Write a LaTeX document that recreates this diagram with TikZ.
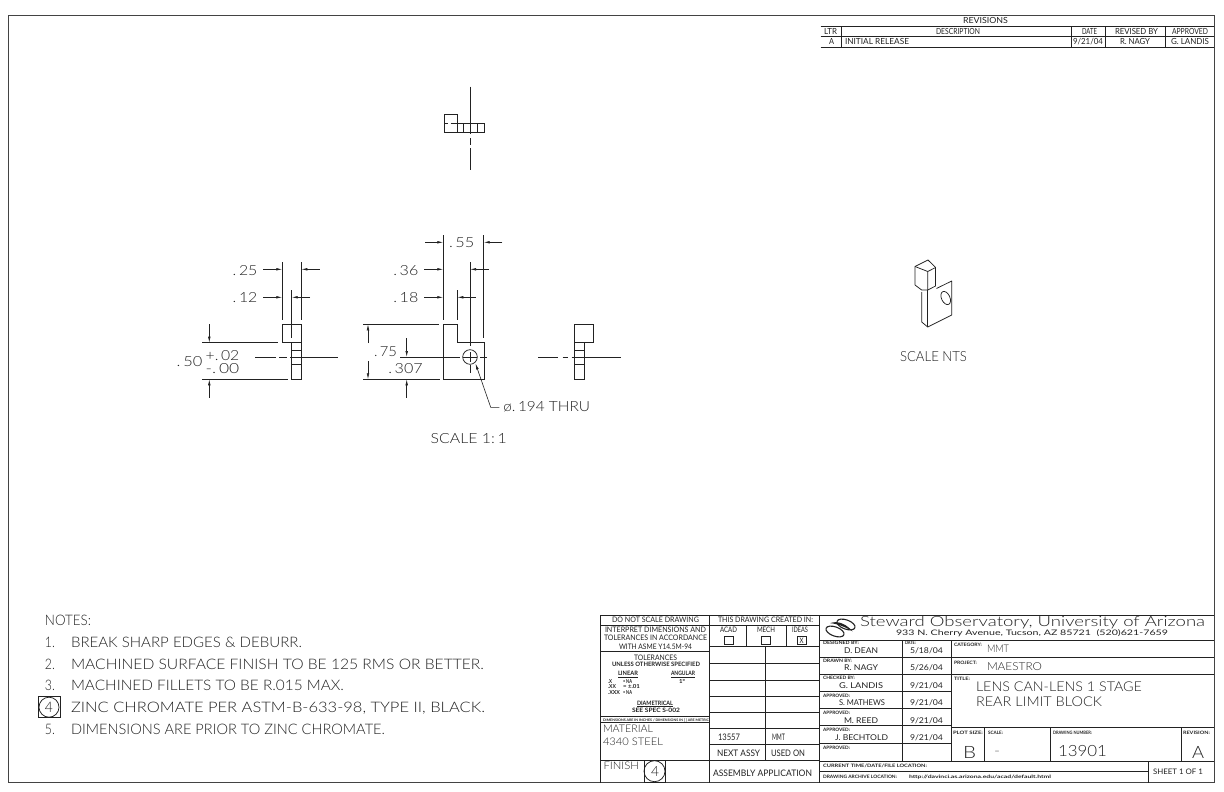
\documentclass[tikz,border=0pt]{standalone}
\usepackage{fontspec}
\usepackage{graphicx}
\usetikzlibrary{arrows.meta}
\setmainfont{Lato Light}
\newfontfamily\regf{Lato}
\definecolor{ink}{HTML}{222222}
\newcounter{tctr}
% \T{x-left}{baseline}{font size}{x-right}{text}
\newcommand\T[5]{\stepcounter{tctr}\node[txt,name=t\thetctr] at (#1,#2) {\ifdim #3pt<6.5pt\regf\bfseries\else\ifdim #3pt<10pt\regf\fi\fi\fontsize{#3pt}{#3pt}\selectfont\resizebox{\dimexpr #4pt-#1pt\relax}{\height}{#5}};}
\tikzset{
  txt/.style={anchor=base west,inner sep=0pt,outer sep=0pt,text=ink},
  part/.style={draw=ink,line width=0.75pt},
  frameline/.style={draw=ink!85,line width=0.9pt},
  grid/.style={draw=ink,line width=0.9pt},
  extline/.style={draw=ink,line width=0.6pt},
  centerline/.style={draw=ink,line width=0.6pt},
  dimarrow/.style={draw=ink,line width=0.6pt,-{Latex[length=6pt,width=2.6pt]}}
}
\begin{document}
\begin{tikzpicture}[x=1pt,y=-1pt]
\useasboundingbox (0,0) rectangle (1224,792);
\fill[white] (0,0) rectangle (1224,792);
% sheet frame
\draw[frameline] (820.5,15.5) -- (8.5,15.5) -- (8.5,782.5) -- (1214,782.5) -- (1214,15.5) -- cycle;
% revision table
\draw[grid] (820.5,26.7) -- (1214,26.7) (820.5,36.7) -- (1214,36.7) (820.5,47.3) -- (1214,47.3);
\draw[grid] (841.7,26.7) -- (841.7,47.3) (1071.7,26.7) -- (1071.7,47.3) (1105,26.7) -- (1105,47.3) (1165,26.7) -- (1165,47.3);
\T{963}{23.3}{8.4}{1008}{REVISIONS}
\T{824}{34.3}{8.4}{837}{LTR}
\T{936}{34.3}{8.4}{980}{DESCRIPTION}
\T{1082}{34.3}{8.4}{1097}{DATE}
\T{1115}{34.3}{8.4}{1158}{REVISED BY}
\T{1172}{34.3}{8.4}{1208}{APPROVED}
\T{829}{45}{8.4}{834}{A}
\T{845}{45}{8.4}{909}{INITIAL RELEASE}
\T{1073}{45}{8.4}{1103}{9/21/04}
\T{1120}{45}{8.4}{1150}{R. NAGY}
\T{1171}{45}{8.4}{1209}{G. LANDIS}
% top view
\draw[part] (444,123.3) -- (444,114) -- (457.7,114) -- (457.7,132.7) -- (444,132.7) -- (444,123.3);
\draw[part] (457.7,123.3) rectangle (484.3,132.7);
\draw[part] (463.3,123.3) -- (463.3,132.7) (477.3,123.3) -- (477.3,132.7);
\draw[part] (444,123.3) -- (447.5,123.3) (450.5,123.3) -- (457.7,123.3);
\draw[centerline] (470.7,86.7) -- (470.7,134.3) (470.7,138) -- (470.7,145) (470.7,148) -- (470.7,170);
% side view left
\draw[part] (282.3,324.3) rectangle (301.3,342.7);
\draw[part] (291.7,342.7) rectangle (301.3,379.3);
\draw[part] (291.7,350) -- (301.3,350) (291.7,364.3) -- (301.3,364.3);
\draw[centerline] (255,357) -- (276,357) (279.3,357) -- (286.7,357) (290,357) -- (338,357);
\draw[extline] (282.3,262) -- (282.3,320) (301.3,262) -- (301.3,320) (291.7,290) -- (291.7,338);
\draw[dimarrow] (263.3,269.3) -- (282.3,269.3);
\draw[dimarrow] (319.5,269.3) -- (301.3,269.3);
\draw[dimarrow] (263.3,297.3) -- (282.3,297.3);
\draw[dimarrow] (310,297.3) -- (291.7,297.3);
\T{232.7}{275}{14}{257.3}{.\,25}
\T{232.7}{302.3}{14}{257.3}{.\,12}
\draw[extline] (202.3,342.7) -- (278.3,342.7) (202.3,379.3) -- (287.7,379.3);
\draw[dimarrow] (209.3,324.3) -- (209.3,342.7);
\draw[dimarrow] (209.3,397.7) -- (209.3,379.3);
\T{176.7}{366}{14}{202.3}{.\,50}
\T{205.7}{360.5}{14}{239.3}{+.\,02}
\T{205.7}{373.5}{14}{239.3}{-.\,00}
% front view
\draw[part] (443.3,342.3) -- (443.3,324.3) -- (457.7,324.3) -- (457.7,342.3) -- (484,342.3) -- (484,379.3) -- (443.3,379.3) -- cycle;
\draw[part] (470,357) circle (7.3);
\draw[centerline] (400,357) -- (460,357) (463,357) -- (477,357) (480,357) -- (487,357);
\draw[centerline] (470,352) -- (470,362) (470,365) -- (470,373);
\draw[extline] (443.3,235) -- (443.3,320) (483.7,235) -- (483.7,338) (470,262) -- (470,346) (457.3,290) -- (457.3,320);
\draw[dimarrow] (425,242.3) -- (443.3,242.3);
\draw[dimarrow] (502.3,242.3) -- (483.7,242.3);
\T{449}{247.3}{14}{474.3}{.\,55}
\draw[dimarrow] (424,269.3) -- (443.3,269.3);
\draw[dimarrow] (488.5,269.3) -- (470,269.3);
\T{393.3}{275}{14}{418.3}{.\,36}
\draw[dimarrow] (424,297.3) -- (443.3,297.3);
\draw[dimarrow] (475.7,297.3) -- (457.3,297.3);
\T{393.3}{302.3}{14}{418.3}{.\,18}
\draw[extline] (363,324.3) -- (439,324.3) (363,379.3) -- (440,379.3);
\draw[dimarrow] (368,343) -- (368,324.3);
\draw[dimarrow] (368,361) -- (368,379.3);
\T{374}{356.7}{14}{397}{.\,75}
\draw[dimarrow] (406.7,338) -- (406.7,357);
\draw[dimarrow] (406.7,397.7) -- (406.7,379.3);
\T{388.3}{373.3}{14}{422.7}{.\,307}
\coordinate (leaderend) at (499.3,407.3);
\draw[dimarrow] (leaderend) -- (490.7,407.3) -- (475.5,363.5);
\T{503.3}{411.7}{14}{590}{ø.\,194 THRU}
\T{430.7}{443.3}{14}{506.7}{SCALE 1:\,1}
% side view right
\draw[part] (574.7,324.3) rectangle (593.3,342.7);
\draw[part] (574.7,342.7) rectangle (584,379.3);
\draw[part] (574.7,350) -- (584,350) (574.7,364.3) -- (584,364.3);
\draw[centerline] (538.3,357) -- (558.3,357) (562.7,357) -- (568.3,357) (571.7,357) -- (620.7,357);
% isometric view
\draw[part,line join=round] (921.7,292) -- (921.7,322) -- (927.7,327) -- (951.7,315) -- (951.7,281) -- (936.5,288.5);
\draw[part] (927.7,327) -- (927.7,290);
\draw[part,rotate around={25:(945.7,298)}] (945.7,298) ellipse (4.2 and 7);
\draw[part,line join=round] (921.7,290) -- (915,285) -- (915,266.5) -- (928,260) -- (935.6,267.5) -- (935.6,286) -- (927.7,290) -- cycle;
\draw[part] (927.7,290) -- (927.7,271.5) -- (935.6,267.5) (927.7,271.5) -- (915,266.5);
\T{900}{361.7}{14}{967}{SCALE NTS}
% notes
\T{45}{625}{14.5}{91}{NOTES:}
\T{45}{647}{14.5}{55}{1.}
\T{71}{647}{14.5}{302}{BREAK SHARP EDGES \& DEBURR.}
\T{45}{669}{14.5}{55}{2.}
\T{71}{669}{14.5}{484}{MACHINED SURFACE FINISH TO BE 125 RMS OR BETTER.}
\T{45}{690.5}{14.5}{55}{3.}
\T{71}{690.5}{14.5}{344}{MACHINED FILLETS TO BE R.015 MAX.}
\draw[part] (38,696.7) rectangle (60,717.7);
\draw[part] (49,707.2) circle (10);
\T{45}{712}{14.5}{53}{4}
\T{71}{712.5}{14.5}{485}{ZINC CHROMATE PER ASTM-B-633-98, TYPE II, BLACK.}
\T{45}{734}{14.5}{55}{5.}
\T{71}{734}{14.5}{385}{DIMENSIONS ARE PRIOR TO ZINC CHROMATE.}
% title block, outer lines
\draw[grid] (600,782.5) -- (600,615) -- (1214,615);
\draw[grid] (709.3,615) -- (709.3,782.5) (819.3,615) -- (819.3,782.5);
% left column
\draw[grid] (600,625) -- (709.3,625) (600,651) -- (709.3,651) (600,716) -- (709.3,716) (600,722) -- (709.3,722) (600,760) -- (819.3,760);
\T{612}{622.5}{7.6}{699}{DO NOT SCALE DRAWING}
\T{605}{632}{7.6}{706}{INTERPRET DIMENSIONS AND}
\T{604}{640.8}{7.6}{707}{TOLERANCES IN ACCORDANCE}
\T{619}{649.3}{7.6}{692}{WITH ASME Y14.5M-94}
\T{634}{660}{7.6}{677}{TOLERANCES}
\T{612}{666.7}{6}{700}{UNLESS OTHERWISE SPECIFIED}
\T{618}{675.7}{6}{638}{\underline{LINEAR}}
\T{671}{675.7}{6}{695}{\underline{ANGULAR}}
\T{608}{683.3}{5.5}{612}{.X}
\T{623}{683.3}{5.5}{632}{= NA}
\T{679}{683.3}{5.5}{685}{1°}
\T{608}{688.6}{5.5}{616}{.XX}
\T{623}{688.6}{5.5}{640}{= ±.01}
\T{608}{694}{5.5}{620}{.XXX}
\T{623}{694}{5.5}{632}{= NA}
\T{637}{705}{6}{673}{\underline{DIAMETRICAL}}
\T{632}{712.7}{6}{680}{SEE SPEC S-002}
\T{603}{721}{3.4}{709}{DIMENSIONS ARE IN INCHES / DIMENSIONS IN [ ] ARE METRIC}
\T{603}{732.3}{10.5}{653}{MATERIAL}
\T{603}{745}{10.5}{663}{4340 STEEL}
\T{603.5}{769.3}{10.5}{639}{FINISH}
\draw[part] (644,760) rectangle (665,782.5);
\draw[part] (654.5,771.2) circle (10.5);
\T{651}{776}{14}{659}{4}
% middle column
\draw[grid] (709.3,625) -- (819.3,625);
\draw[grid,line width=1.1pt] (746.7,625) -- (746.7,646.7) (786.7,625) -- (786.7,646.7) (709.3,646.7) -- (819.3,646.7);
\draw[grid] (709.3,663) -- (819.3,663) (709.3,680) -- (819.3,680) (709.3,696) -- (819.3,696) (709.3,712) -- (819.3,712) (709.3,728) -- (819.3,728) (709.3,744) -- (819.3,744);
\draw[grid] (765.7,646.7) -- (765.7,760);
\T{718}{622.5}{7.6}{813}{THIS DRAWING CREATED IN:}
\T{720}{632.7}{7.6}{737}{ACAD}
\T{757}{632.7}{7.6}{775}{MECH}
\T{792}{632.7}{7.6}{808}{IDEAS}
\draw[part] (724,636) rectangle (733,644.3);
\draw[part] (761,636) rectangle (770,644.3);
\draw[part] (797,636) rectangle (806,644.3);
\T{799.5}{643}{7.6}{803.5}{X}
\T{718}{740}{9}{740}{13557}
\T{772}{740}{9}{785}{MMT}
\T{717}{756}{9}{760}{NEXT ASSY}
\T{771}{756}{9}{805}{USED ON}
\T{713}{776}{9}{812}{ASSEMBLY APPLICATION}
% right block
\draw[grid] (819.3,640) -- (1214,640);
\draw[grid] (951.7,657) -- (1214,657) (951.7,674) -- (1214,674) (951.7,727.3) -- (1214,727.3);
\draw[grid] (819.3,657) -- (951.7,657) (819.3,674) -- (951.7,674) (819.3,691.7) -- (951.7,691.7) (819.3,708.5) -- (951.7,708.5) (819.3,725.7) -- (951.7,725.7) (819.3,743.3) -- (951.7,743.3);
\draw[grid] (819.3,761) -- (1214,761) (819.3,771.7) -- (1148,771.7);
\draw[grid] (902.7,640) -- (902.7,761) (951.7,640) -- (951.7,761) (984,727.3) -- (984,761) (1050,727.3) -- (1050,761) (1181,727.3) -- (1181,761) (1148,761) -- (1148,782.5);
% logo
\draw[draw=ink,line width=1.1pt,rotate around={-20:(846,624.5)}] (846,624.5) ellipse (9.5 and 4.6);
\draw[draw=ink,line width=1.1pt,rotate around={-20:(835,631.5)}] (835,631.5) ellipse (9.5 and 4.6);
\fill[ink,rotate around={-20:(840.5,628)}] (829,627) .. controls (836,621) and (846,623) .. (853,627) .. controls (846,625.5) and (836,625) .. cycle;
\T{860}{626.7}{14}{1205}{Steward Observatory, University of Arizona}
\T{896}{635.7}{7.6}{1168}{933 N. Cherry Avenue, Tucson, AZ 85721 \ (520)621-7659}
\T{823}{644.7}{4.6}{859}{DESIGNED BY:}
\T{905}{644.7}{4.6}{916}{DATE:}
\T{844}{653.3}{8}{878}{D. DEAN}
\T{910}{653.3}{8}{943}{5/18/04}
\T{823}{662}{4.6}{852}{DRAWN BY:}
\T{844}{670.7}{8}{878}{R. NAGY}
\T{910}{670.7}{8}{943}{5/26/04}
\T{823}{679.3}{4.6}{855}{CHECKED BY:}
\T{839}{688.3}{8}{883}{G. LANDIS}
\T{910}{688.3}{8}{943}{9/21/04}
\T{823}{697}{4.6}{850}{APPROVED:}
\T{839}{705.7}{8}{885}{S. MATHEWS}
\T{910}{705.7}{8}{943}{9/21/04}
\T{823}{714}{4.6}{850}{APPROVED:}
\T{844}{723.3}{8}{878}{M. REED}
\T{910}{723.3}{8}{943}{9/21/04}
\T{823}{731.7}{4.6}{850}{APPROVED:}
\T{835}{740.7}{8}{888}{J. BECHTOLD}
\T{910}{740.7}{8}{943}{9/21/04}
\T{823}{749.3}{4.6}{850}{APPROVED:}
\T{954}{646}{4.6}{982}{CATEGORY:}
\T{987}{652.7}{10.5}{1009}{MMT}
\T{954}{664}{4.6}{977}{PROJECT:}
\T{987}{670.7}{11}{1042}{MAESTRO}
\T{954}{680}{4.6}{970}{TITLE:}
\T{976}{691}{13.5}{1142}{LENS CAN-LENS 1 STAGE}
\T{976}{706}{13.5}{1102}{REAR LIMIT BLOCK}
\T{953}{734}{4.6}{983}{PLOT SIZE:}
\T{988}{734}{4.6}{1003}{SCALE:}
\T{1053}{734}{4.6}{1092}{DRAWING NUMBER:}
\T{1183}{734}{4.6}{1210}{REVISION:}
\T{963}{758.3}{17}{976}{B}
\T{994}{754}{10}{1000}{-}
\T{1058}{756.7}{15.5}{1107}{13901}
\T{1192}{758.3}{17}{1204}{A}
\T{823}{767.7}{4.6}{927}{CURRENT TIME/DATE/FILE LOCATION:}
\T{823}{778.3}{4.6}{897}{DRAWING ARCHIVE LOCATION:}
\T{909}{778.3}{4.6}{1051}{http://davinci.as.arizona.edu/acad/default.html}
\T{1153}{774}{7.6}{1203}{SHEET 1 OF 1}
\end{tikzpicture}
\end{document}
